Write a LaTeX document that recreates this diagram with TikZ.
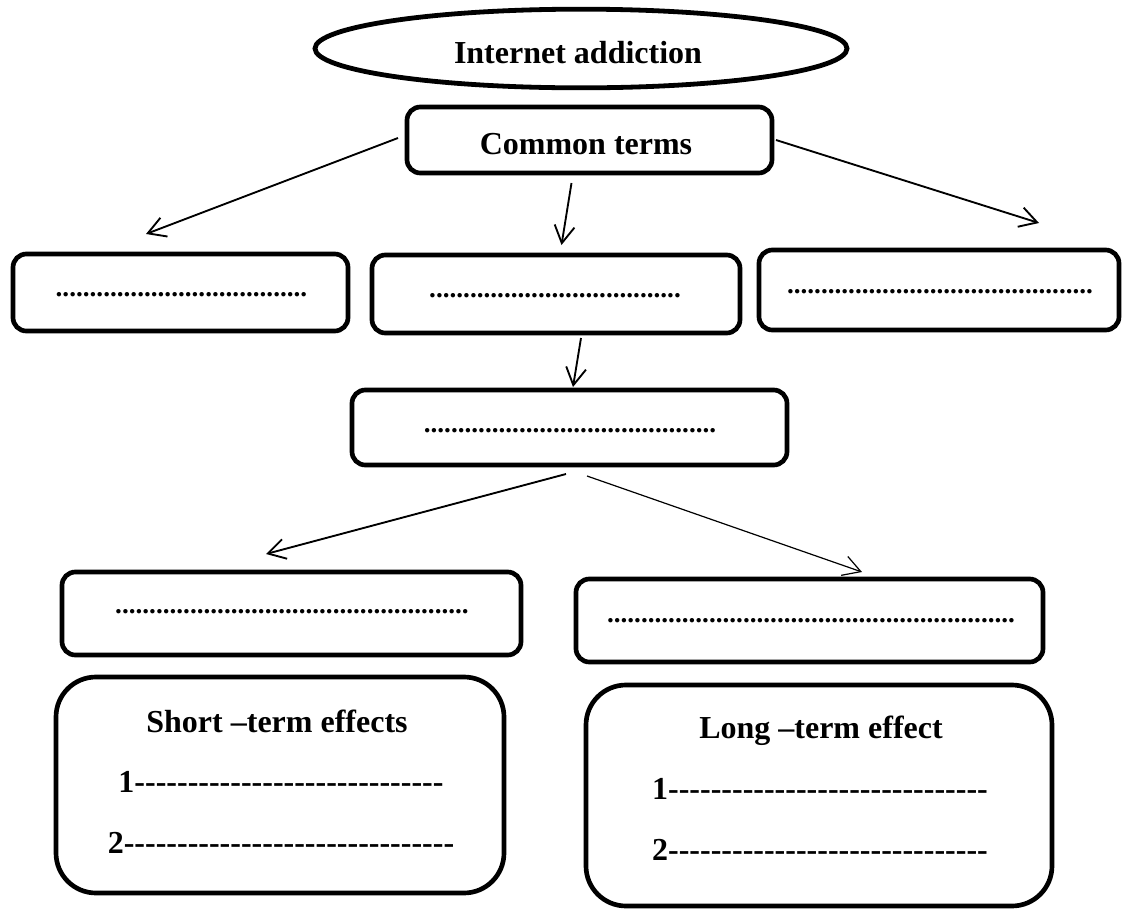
\documentclass[tikz,border=0pt]{standalone}
\usepackage{fontspec}
\setmainfont{Liberation Serif}
\usetikzlibrary{arrows.meta,shapes.geometric}
\ExplSyntaxOn
\NewDocumentCommand\rep{mm}{\prg_replicate:nn{#1}{#2}}
\ExplSyntaxOff
\tikzset{
  box/.style={draw, line width=3.5pt, rounded corners=10pt, inner sep=0pt},
  bigbox/.style={box, rounded corners=30pt},
  oval/.style={draw, ellipse, line width=3.6pt, inner sep=0pt},
  title/.style={font=\fontsize{24}{28}\selectfont\bfseries, inner sep=0pt, anchor=base},
  blank/.style={font=\fontsize{20.4}{24}\selectfont\bfseries, inner sep=0pt, anchor=base},
  arr/.style={-{Straight Barb[length=13pt,width=15pt]}, line width=1.4pt},
  thinarr/.style={-{Straight Barb[length=13pt,width=15pt]}, line width=0.9pt}
}
\begin{document}
\begin{tikzpicture}[x=0.75pt,y=-0.75pt]
\useasboundingbox (0,0) rectangle (1122,911);
% shapes
\node[oval, minimum width=399pt, minimum height=59pt] (ia) at (581,48.5) {};
\node[box, minimum width=273.75pt, minimum height=49.5pt] (ct) at (589.5,140) {};
\node[box, minimum width=251.25pt, minimum height=57.75pt] (l1) at (180.5,292.5) {};
\node[box, minimum width=276pt, minimum height=58.5pt] (m1) at (556,294) {};
\node[box, minimum width=270pt, minimum height=60pt] (r1) at (939,290) {};
\node[box, minimum width=326.25pt, minimum height=56.25pt] (c2) at (569.5,427.5) {};
\node[box, minimum width=344.25pt, minimum height=62.25pt] (l3) at (291.5,613.5) {};
\node[box, minimum width=350.25pt, minimum height=62.25pt] (r3) at (809.5,620.5) {};
\node[bigbox, minimum width=336pt, minimum height=162pt] (l4) at (280,785) {};
\node[bigbox, minimum width=349.5pt, minimum height=165.75pt] (r4) at (819,795.5) {};
% texts
\node[title] (tia) at (578,63) {Internet addiction};
\node[title] (tct) at (586,154) {Common terms};
\node[blank] (tl1) at (181.5,296) {\rep{37}{.}};
\node[blank] (tm1) at (555,297) {\rep{37}{.}};
\node[blank] (tr1) at (940,293) {\rep{45}{.}};
\node[blank] (tc2) at (570,432) {\rep{43}{.}};
\node[blank] (tl3) at (292,613.5) {\rep{52}{.}};
\node[blank] (tr3) at (811,622) {\rep{60}{.}};
\node[title] (ts) at (277,732) {Short –term effects};
\node[title] (ts1) at (281,792) {1\rep{29}{-\kern0pt}};
\node[title] (ts2) at (281,853) {2\rep{31}{-\kern0pt}};
\node[title] (tl) at (821,738) {Long –term effect};
\node[title] (tl1b) at (820,799) {1\rep{30}{-\kern0pt}};
\node[title] (tl2b) at (820,860) {2\rep{30}{-\kern0pt}};
% connector ends
\coordinate (a1s) at (398,138);  \coordinate (a1e) at (146,234);
\coordinate (a2s) at (571.5,183); \coordinate (a2e) at (561.5,245);
\coordinate (a3s) at (776,140);  \coordinate (a3e) at (1039,223);
\coordinate (a4s) at (581,338);  \coordinate (a4e) at (573,387);
\coordinate (a5s) at (566,474);  \coordinate (a5e) at (266,554);
\coordinate (a6s) at (587,476);  \coordinate (a6e) at (862,572);
\draw[arr] (a1s) -- (a1e);
\draw[arr] (a2s) -- (a2e);
\draw[arr] (a3s) -- (a3e);
\draw[arr] (a4s) -- (a4e);
\draw[arr] (a5s) -- (a5e);
\draw[thinarr] (a6s) -- (a6e);
\end{tikzpicture}
\end{document}
